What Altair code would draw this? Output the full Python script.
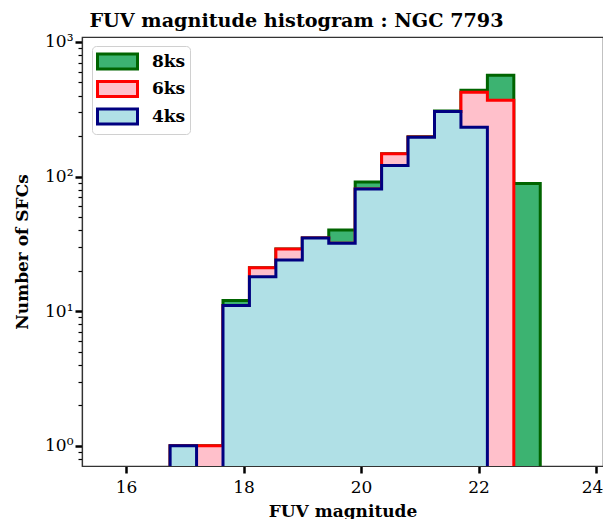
import altair as alt
import pandas as pd

# bin edges (FUV magnitude) and counts per exposure
bin_start = 16.75
bin_width = 0.45
series_names = ["8ks", "6ks", "4ks"]
counts_8ks = [1, 1, 12, 21, 29, 35, 40, 91, 148, 198, 307, 438, 566, 89]
counts_6ks = [1, 1, 11, 21, 29, 35, 32, 81, 148, 197, 305, 423, 369]
counts_4ks = [1, 0, 11, 18, 24, 35, 32, 81, 121, 196, 305, 233]
fill_colors = ["#3cb371", "#ffc0cb", "#b0e0e6"]
edge_colors = ["#006400", "#ff0000", "#000080"]
x_ticks = [16, 18, 20, 22, 24]
y_major = [1, 10, 100, 1000]
y_minor = [m * 10 ** k for k in range(0, 3) for m in range(2, 10)] + [0.8, 0.9]

FLOOR = 0.3


def steps(name, counts):
    rows = []
    for i, c in enumerate(counts):
        rows.append({"series": name, "x": round(bin_start + i * bin_width, 4), "y": max(c, FLOOR)})
    rows.append({"series": name, "x": round(bin_start + len(counts) * bin_width, 4), "y": max(counts[-1], FLOOR)})
    return pd.DataFrame(rows)


all_counts = [counts_8ks, counts_6ks, counts_4ks]

xscale = alt.Scale(domain=[15.25, 24.118], nice=False, zero=False)
yscale = alt.Scale(type="log", domain=[0.707, 1089], nice=False)
fill_scale = alt.Scale(domain=series_names, range=fill_colors)
stroke_scale = alt.Scale(domain=series_names, range=edge_colors)

label_expr = ("datum.value == 1 ? '10⁰' : datum.value == 10 ? '10¹' : "
              "datum.value == 100 ? '10²' : datum.value == 1000 ? '10³' : ''")
major_test = "indexof([1,10,100,1000], datum.value) >= 0"

layers = []
for idx, (name, counts) in enumerate(zip(series_names, all_counts)):
    df = steps(name, counts)
    ch = alt.Chart(df).mark_area(
        interpolate="step-after", clip=True, strokeWidth=3, strokeJoin="miter", fillOpacity=1
    ).encode(
        x=alt.X("x:Q", scale=xscale,
                axis=alt.Axis(values=x_ticks, title="FUV magnitude", grid=False,
                              labelFont="DejaVu Serif", labelFontSize=17, labelColor="black",
                              labelOffset={"condition": {"test": "datum.value == 24", "value": -4}, "value": 0},
                              titleFont="DejaVu Serif", titleFontWeight="bold", titleFontSize=17,
                              titleColor="black", tickSize=7, tickWidth=2.5, tickColor="black",
                              domainColor="#333333", domainWidth=1.2, labelPadding=6,
                              titlePadding=8, format="d")),
        y=alt.Y("y:Q", scale=yscale,
                axis=alt.Axis(values=y_major + y_minor, labelExpr=label_expr, title="Number of SFCs",
                              grid=False, labelOverlap=False,
                              labelFont="DejaVu Serif", labelFontSize=17, labelColor="black",
                              titleFont="DejaVu Serif", titleFontWeight="bold", titleFontSize=17,
                              titleColor="black",
                              tickSize={"condition": {"test": major_test, "value": 7}, "value": 4},
                              tickWidth={"condition": {"test": major_test, "value": 2.5}, "value": 1.2},
                              tickColor="black", domainColor="#333333", domainWidth=1.2,
                              labelPadding=2, titlePadding=13)),
        y2=alt.datum(FLOOR),
        fill=alt.Fill("series:N", scale=fill_scale, title=None),
        stroke=alt.Stroke("series:N", scale=stroke_scale, title=None),
    )
    layers.append(ch)

chart = alt.layer(*layers).properties(
    width=521, height=429,
    title=alt.TitleParams("FUV magnitude histogram : NGC 7793", font="DejaVu Serif",
                          fontWeight="bold", fontSize=19.2, color="black", dx=-46, offset=2),
    autosize=alt.AutoSizeParams(type="none"),
    padding={"left": 74, "top": 29, "right": 0, "bottom": 60},
).configure_view(
    stroke="#333333", strokeWidth=1.2
).configure_legend(
    orient="none", legendX=10, legendY=9, direction="vertical",
    symbolType="M-1,-0.75H3V0.75H-1Z", symbolSize=400, symbolStrokeWidth=3,
    labelFont="DejaVu Serif", labelFontWeight="bold", labelFontSize=17, labelColor="black",
    labelOffset=33, padding=4, rowPadding=0.5, strokeColor="#d0d0d0", cornerRadius=4,
    fillColor="white", symbolOpacity=1
)

chart.save("out.html", embed_options={"renderer": "svg", "actions": False})
